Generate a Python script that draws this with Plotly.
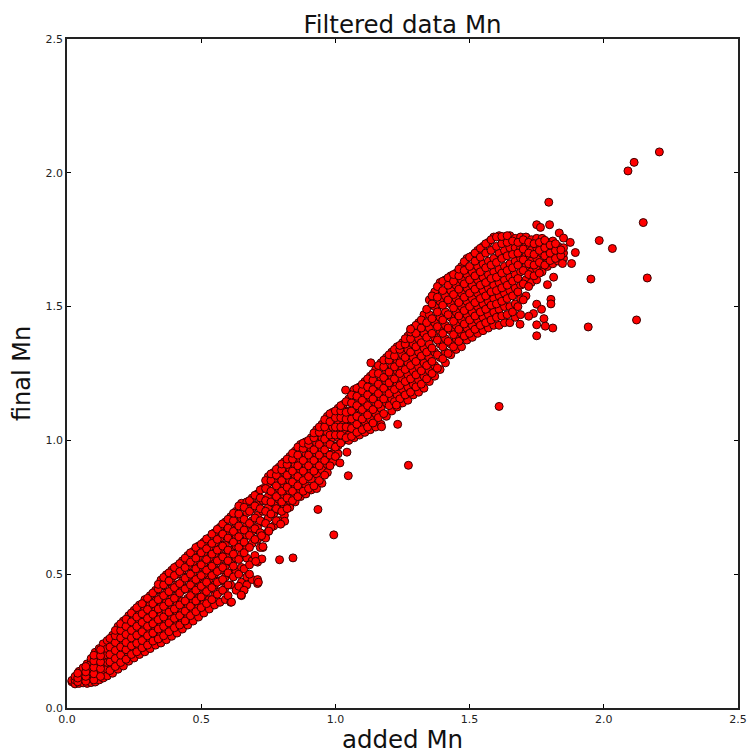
import plotly.graph_objects as go

title_text = "Filtered data Mn"
x_label = "added Mn"
y_label = "final Mn"
tick_values = [0.0, 0.5, 1.0, 1.5, 2.0, 2.5]
tick_labels = ["0.0", "0.5", "1.0", "1.5", "2.0", "2.5"]

# Main band read column by column: x of each column, y values seen in it
band_columns_x = [0.018,0.03,0.045,0.06,0.075,0.09,0.105,0.12,0.135,0.15,0.17,0.19,0.21,0.23,0.25,0.27,0.29,0.31,0.33,0.35,
 0.37,0.39,0.41,0.43,0.45,0.47,0.49,0.51,0.53,0.55,0.57,0.59,0.61,0.63,0.65,0.67,0.69,0.71,0.73,0.75,
 0.77,0.79,0.81,0.83,0.85,0.87,0.89,0.91,0.93,0.95,0.97,0.99,1.01,1.03,1.05,1.07,1.09,1.11,1.13,1.15,
 1.17,1.19,1.21,1.23,1.25,1.27,1.29,1.31,1.33,1.35,1.37,1.39,1.41,1.43,1.45,1.47,1.49,1.51,1.53,1.55,
 1.57,1.59,1.61,1.63,1.65,1.67,1.69,1.71,1.73,1.75,1.77,1.79,1.81,1.83,1.85]
band_columns_y = [
 [.098,.103],[.09,.105,.118],[.092,.108,.125,.137],[.094,.11,.128,.15],[.092,.107,.125,.143,.165],
 [.095,.11,.13,.15,.17,.185],[.097,.118,.14,.162,.185,.208],[.105,.125,.15,.175,.2,.222],[.112,.137,.16,.183,.21,.24],[.12,.145,.17,.198,.222,.252],
 [.13,.155,.185,.21,.24,.272],[.145,.17,.2,.228,.255,.285,.305],[.157,.185,.21,.24,.27,.3,.325],[.175,.2,.23,.258,.29,.318,.345],[.187,.215,.245,.275,.305,.335,.365],
 [.2,.225,.258,.29,.32,.35,.385],[.21,.238,.27,.3,.335,.37,.405],[.222,.25,.285,.32,.35,.385,.42],[.235,.265,.295,.33,.365,.4,.44],[.243,.275,.31,.345,.38,.415,.455,.478],
 [.255,.285,.32,.36,.395,.43,.47,.498],[.268,.3,.335,.37,.41,.445,.485,.515],[.28,.315,.35,.385,.42,.46,.5,.53],[.295,.325,.36,.4,.44,.475,.515,.55],[.31,.34,.375,.41,.45,.49,.53,.57],
 [.325,.36,.395,.43,.47,.505,.545,.585],[.34,.375,.41,.45,.485,.525,.565,.605],[.355,.39,.425,.465,.5,.54,.58,.62],[.37,.405,.445,.48,.52,.56,.6,.635],[.385,.42,.46,.5,.54,.575,.615,.655],
 [.395,.435,.475,.515,.555,.595,.635,.675],[.405,.45,.49,.53,.57,.61,.655,.695],[.395,.46,.5,.545,.59,.63,.67,.715],[.44,.51,.56,.605,.645,.69,.735],[.42,.47,.525,.575,.62,.665,.71,.765],
 [.46,.49,.56,.6,.645,.685,.73,.77],[.48,.55,.615,.66,.7,.745,.785],[.465,.48,.545,.63,.675,.72,.76,.8],[.6,.64,.695,.735,.775,.82],[.66,.71,.75,.79,.84,.865],
 [.68,.725,.765,.805,.85,.88],[.70,.74,.78,.82,.865,.9],[.72,.755,.795,.835,.88,.92],[.75,.775,.81,.85,.895,.94],[.77,.8,.83,.87,.91,.96],
 [.79,.815,.85,.89,.93,.985],[.80,.83,.87,.91,.95,.995],[.815,.855,.89,.93,.97,1.01],[.82,.875,.91,.95,.99,1.04],[.84,.89,.93,.97,1.01,1.06],
 [.88,.91,.95,.99,1.03,1.09],[.92,.95,.98,1.01,1.05,1.105],[.95,.98,1.01,1.04,1.07,1.12],[1.0,1.03,1.06,1.09,1.135],[1.0,1.02,1.05,1.08,1.11,1.155],
 [1.01,1.04,1.07,1.1,1.13,1.19],[1.02,1.05,1.08,1.12,1.15,1.2],[1.03,1.07,1.1,1.14,1.17,1.22],[1.04,1.08,1.12,1.16,1.19,1.24],[1.05,1.1,1.14,1.18,1.21,1.265],
 [1.06,1.12,1.16,1.2,1.235,1.29],[1.09,1.14,1.18,1.22,1.26,1.31],[1.11,1.155,1.2,1.24,1.28,1.33],[1.125,1.17,1.21,1.26,1.3,1.35],[1.14,1.19,1.23,1.27,1.32,1.365],
 [1.15,1.2,1.245,1.29,1.34,1.39],[1.17,1.21,1.26,1.31,1.36,1.42],[1.18,1.225,1.275,1.33,1.38,1.44],[1.195,1.24,1.29,1.345,1.4,1.47],[1.22,1.26,1.31,1.36,1.42,1.47,1.525],
 [1.24,1.28,1.33,1.385,1.44,1.5,1.555],[1.265,1.31,1.36,1.41,1.46,1.52,1.59],[1.29,1.33,1.38,1.43,1.48,1.54,1.6],[1.32,1.36,1.41,1.46,1.51,1.56,1.615],[1.34,1.38,1.43,1.48,1.53,1.58,1.625],
 [1.35,1.4,1.45,1.5,1.55,1.6,1.65],[1.375,1.42,1.47,1.52,1.57,1.62,1.68],[1.385,1.43,1.48,1.53,1.58,1.63,1.69],[1.40,1.45,1.5,1.55,1.6,1.65,1.71],[1.41,1.46,1.51,1.56,1.61,1.66,1.725],
 [1.42,1.47,1.52,1.57,1.62,1.67,1.74],[1.43,1.48,1.53,1.58,1.63,1.68,1.76],[1.43,1.49,1.54,1.59,1.64,1.7,1.765],[1.44,1.5,1.55,1.6,1.65,1.71,1.76],[1.44,1.5,1.56,1.61,1.66,1.72,1.765],
 [1.46,1.51,1.57,1.62,1.67,1.72,1.755],[1.47,1.53,1.58,1.63,1.68,1.72,1.76],[1.54,1.6,1.65,1.69,1.73,1.76],[1.59,1.63,1.67,1.71,1.75],[1.6,1.64,1.68,1.72,1.755],
 [1.63,1.66,1.7,1.73,1.755],[1.65,1.68,1.71,1.74],[1.66,1.69,1.72,1.745],[1.67,1.7,1.725],[1.68,1.7,1.72],
]

# Second pass over the band, between the columns above
fill_columns_x = [0.04,0.07,0.10,0.125,0.16,0.18,0.20,0.22,0.24,0.26,0.28,0.30,0.32,0.34,0.36,0.38,0.40,0.42,0.44,0.46,
 0.48,0.50,0.52,0.54,0.56,0.58,0.60,0.62,0.64,0.66,0.68,0.70,0.72,0.74,0.76,0.78,0.80,0.82,0.84,0.86,
 0.88,0.90,0.92,0.94,0.96,0.98,1.00,1.02,1.04,1.06,1.08,1.10,1.12,1.14,1.16,1.18,1.20,1.22,1.24,1.26,
 1.28,1.30,1.32,1.34,1.36,1.38,1.40,1.42,1.44,1.46,1.48,1.50,1.52,1.54,1.56,1.58,1.60,1.62,1.64,1.66,
 1.68,1.70,1.72,1.74,1.76,1.78,1.80,1.82,1.84]
fill_columns_y = [
 [.098,.112,.13],[.1,.118,.135,.155],[.105,.128,.152,.176,.197],[.118,.147,.172,.195,.218],[.14,.172,.2,.228,.26],
 [.155,.185,.215,.245,.27,.29],[.17,.198,.228,.262,.29,.315],[.182,.218,.245,.275,.305,.332],[.2,.232,.262,.29,.322,.355],[.21,.242,.272,.305,.34,.375],
 [.225,.252,.285,.32,.352,.39],[.235,.27,.305,.335,.368,.41],[.25,.28,.315,.35,.39,.43],[.258,.295,.33,.37,.405,.445,.462],[.27,.305,.34,.38,.42,.46,.488],
 [.285,.318,.358,.395,.435,.475,.505],[.3,.335,.37,.41,.45,.495,.525],[.31,.345,.385,.43,.465,.51,.54],[.325,.362,.4,.445,.485,.525,.56],[.345,.38,.42,.46,.5,.545,.58],
 [.36,.4,.44,.48,.52,.56,.6],[.375,.415,.455,.495,.535,.58,.612],[.39,.435,.47,.515,.555,.595,.632],[.405,.45,.495,.53,.575,.615,.65],[.425,.47,.51,.55,.59,.63,.668],
 [.44,.48,.525,.565,.605,.65,.688],[.42,.46,.505,.55,.59,.635,.672,.705],[.49,.53,.575,.62,.66,.7,.728],[.455,.5,.555,.6,.64,.68,.725,.755],[.44,.52,.58,.62,.665,.705,.75],
 [.5,.535,.6,.645,.69,.735,.775],[.57,.63,.67,.71,.755,.795],[.6,.655,.7,.745,.785,.815],[.635,.69,.735,.775,.82,.85],[.675,.725,.77,.81,.85,.875],
 [.7,.745,.79,.83,.87,.892],[.735,.77,.81,.85,.89,.912],[.745,.785,.825,.87,.91,.93],[.775,.81,.845,.885,.93,.952],[.79,.83,.865,.905,.945,.975],
 [.81,.85,.885,.925,.97,.99],[.82,.865,.905,.945,.985,1.0],[.83,.885,.925,.965,1.01,1.028],[.85,.905,.945,.985,1.03,1.05],[.87,.925,.965,1.005,1.05,1.078],
 [.905,.945,.985,1.02,1.07,1.1],[.94,.975,1.02,1.05,1.085,1.11],[.99,1.02,1.05,1.085,1.11,1.13],[1.01,1.05,1.08,1.105,1.145],[1.015,1.045,1.08,1.11,1.14,1.17],
 [1.03,1.06,1.09,1.13,1.165,1.195],[1.04,1.08,1.115,1.15,1.185,1.21],[1.05,1.095,1.13,1.17,1.2,1.23],[1.065,1.115,1.155,1.19,1.225,1.25],[1.085,1.135,1.175,1.21,1.25,1.28],
 [1.1,1.155,1.195,1.235,1.275,1.3],[1.13,1.175,1.215,1.255,1.3,1.32],[1.145,1.19,1.23,1.275,1.315,1.34],[1.155,1.205,1.25,1.29,1.34,1.355],[1.17,1.22,1.265,1.31,1.36,1.38],
 [1.18,1.23,1.28,1.33,1.38,1.405],[1.2,1.245,1.295,1.35,1.4,1.43],[1.21,1.26,1.315,1.365,1.42,1.45],[1.23,1.28,1.33,1.385,1.44,1.49],[1.25,1.295,1.345,1.4,1.455,1.51,1.54],
 [1.27,1.32,1.375,1.425,1.48,1.535,1.575],[1.305,1.35,1.4,1.45,1.505,1.56,1.595],[1.325,1.37,1.42,1.47,1.525,1.58,1.608],[1.35,1.395,1.445,1.495,1.545,1.595,1.62],[1.37,1.415,1.465,1.515,1.565,1.615,1.64],
 [1.39,1.435,1.485,1.535,1.585,1.635,1.668],[1.4,1.45,1.5,1.55,1.6,1.65,1.685],[1.415,1.465,1.515,1.565,1.615,1.67,1.7],[1.43,1.48,1.53,1.58,1.63,1.685,1.718],[1.44,1.49,1.54,1.59,1.645,1.7,1.735],
 [1.45,1.505,1.555,1.605,1.655,1.71,1.75],[1.46,1.51,1.56,1.61,1.665,1.725,1.76],[1.465,1.52,1.57,1.625,1.68,1.735,1.762],[1.47,1.53,1.58,1.635,1.69,1.74,1.765],[1.48,1.54,1.595,1.645,1.695,1.745],
 [1.5,1.555,1.605,1.655,1.7,1.74],[1.525,1.585,1.635,1.675,1.715,1.75],[1.575,1.62,1.66,1.7,1.74],[1.615,1.655,1.695,1.735],[1.625,1.665,1.71,1.74],
 [1.655,1.69,1.72,1.748],[1.672,1.7,1.73],[1.68,1.71,1.735],[1.69,1.712],
]

# Isolated points away from the band
outlier_x = [2.207,2.113,2.09,1.795,2.147,1.75,1.764,1.798,1.983,2.032,1.952,2.162,1.813,1.942,2.122,1.81,1.61,1.272,1.232,1.172,1.227,
 1.048,1.043,1.017,0.935,0.994,0.842,0.792,0.811,0.796,0.752,0.725,0.73,0.726,0.703,0.649,0.613,0.713,
 1.834,1.85,1.875,1.894,1.88,1.846,1.803,1.803,1.75,1.768,1.738,1.72,1.777,1.75,1.782,1.75,1.688,1.79,1.132,1.038,1.28]
outlier_y = [2.078,2.039,2.007,1.89,1.814,1.806,1.796,1.806,1.747,1.717,1.603,1.607,1.61,1.424,1.45,1.42,1.127,0.907,1.06,1.051,1.132,
 0.868,0.956,0.916,0.742,0.647,0.561,0.554,0.698,0.687,0.661,0.644,0.603,0.557,0.548,0.422,0.396,0.47,
 1.775,1.756,1.74,1.702,1.661,1.661,1.527,1.51,1.509,1.49,1.474,1.464,1.455,1.432,1.427,1.391,1.434,1.582,1.29,1.188,1.416]

xs, ys = [], []
for cols_x, cols_y in ((band_columns_x, band_columns_y), (fill_columns_x, fill_columns_y)):
    for cx, col in zip(cols_x, cols_y):
        xs += [cx] * len(col)
        ys += col
xs += outlier_x
ys += outlier_y

fig = go.Figure(go.Scatter(
    x=xs, y=ys, mode="markers",
    marker=dict(color="#ff0000", size=8, line=dict(color="#3a0000", width=1)),
    hoverinfo="skip",
))
axis = dict(range=[0, 2.5], tickvals=tick_values, ticktext=tick_labels, ticks="inside", ticklen=4,
            tickcolor="#000", tickwidth=1, showline=True, linecolor="#222", linewidth=1.5, mirror="ticks",
            showgrid=False, zeroline=False, automargin=False,
            tickfont=dict(family="DejaVu Sans", size=11, color="#222"))
fig.update_layout(
    width=748, height=754, autosize=False, paper_bgcolor="white", plot_bgcolor="white", showlegend=False,
    margin=dict(l=67, r=10, t=39, b=46),
    title=dict(text=title_text, x=0.5, xanchor="center", xref="paper", y=0.968, yanchor="middle",
               font=dict(family="DejaVu Sans", size=24.5, color="#111")),
    xaxis=dict(axis, title=dict(text=x_label, standoff=7, font=dict(family="DejaVu Sans", size=24.5, color="#111"))),
    yaxis=dict(axis, title=dict(text=y_label, standoff=8, font=dict(family="DejaVu Sans", size=24, color="#111"))),
)
fig.write_html("out.html", config={"displayModeBar": False},
               post_script="document.body.style.margin='0';document.documentElement.style.overflow='hidden';")
